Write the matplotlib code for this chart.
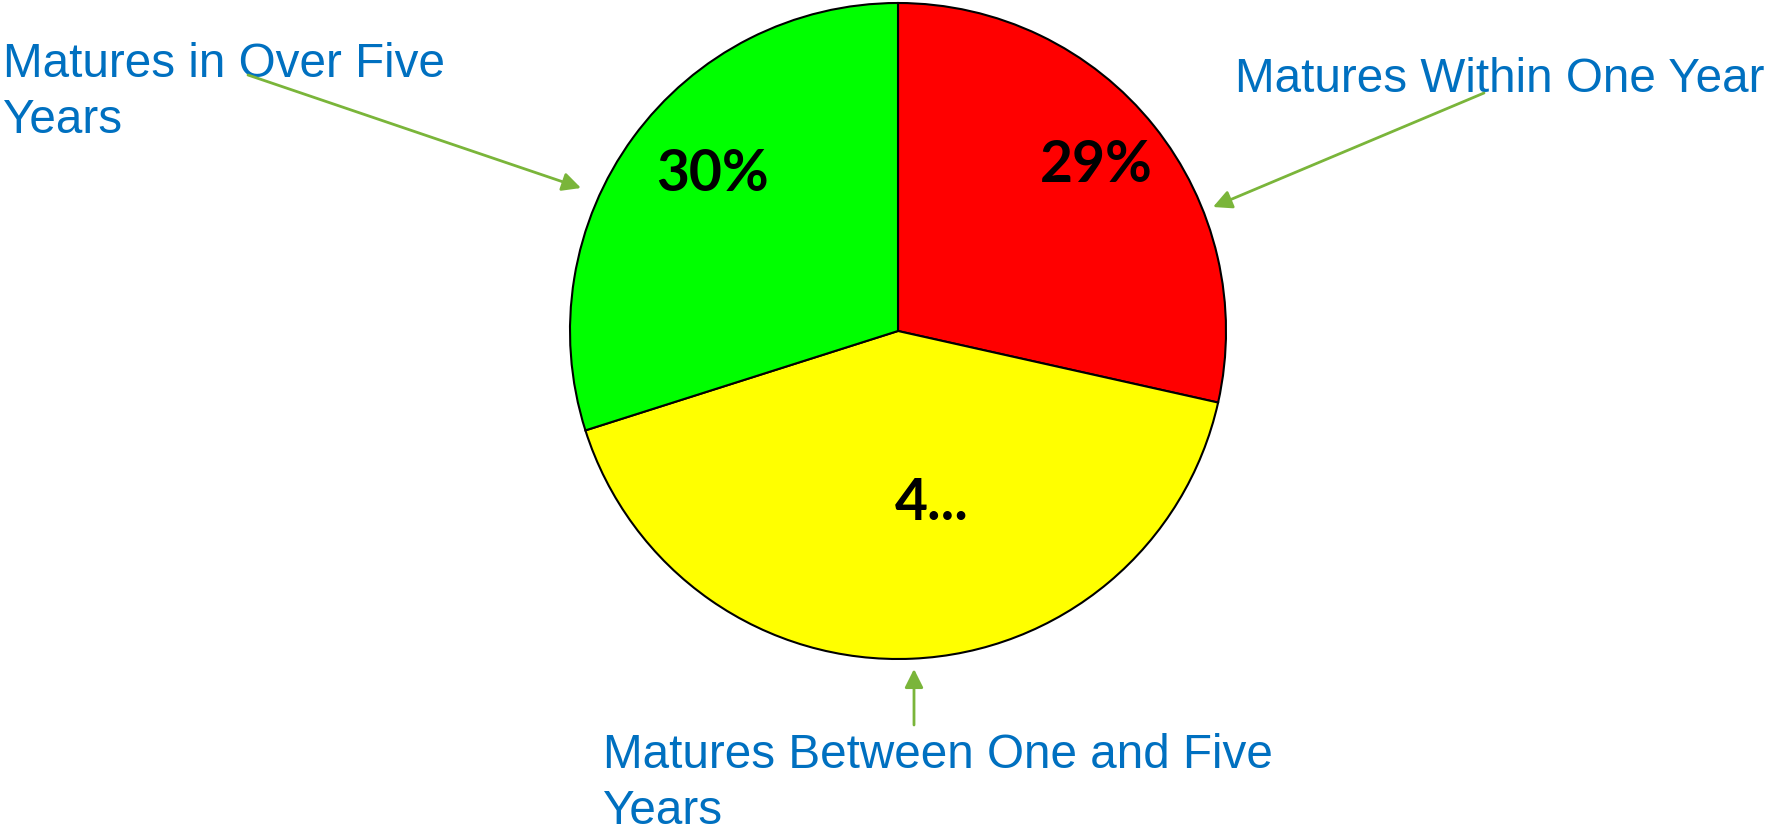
import matplotlib
matplotlib.use('Agg')
import matplotlib.pyplot as plt

categories = ['Matures Within One Year', 'Matures Between One and Five\nYears', 'Matures in Over Five\nYears']
shares = [28.5, 41.6, 29.9]
pct_labels = ['29%', '4...', '30%']
colors = ['#FF0000', '#FFFF00', '#00FF00']

W, H = 1766, 830
fig = plt.figure(figsize=(W / 100, H / 100), dpi=100)
ax = fig.add_axes([0, 0, 1, 1])

# pie in pixel coordinates (y measured from bottom)
cx, cy, r = 898, H - 331, 328
ax.pie(shares, colors=colors, startangle=90, counterclock=False,
       center=(cx, cy), radius=r,
       wedgeprops=dict(edgecolor='black', linewidth=1.5))
ax.set_xlim(0, W)
ax.set_ylim(0, H)
ax.set_aspect('equal')
ax.axis('off')

# percentage labels inside slices (baseline positions)
pct_pos = [(1096, 182), (932, 520), (713, 191)]
for txt, (x, y) in zip(pct_labels, pct_pos):
    ax.text(x, H - y, txt, ha='center', va='baseline', fontsize=41,
            fontweight='bold', family='Lato', color='black')

# category labels with arrows (y = baseline of the last line)
blue = '#0070C0'
green = '#7AB53A'
label_pos = [(1235, 92), (603, 824), (3, 133)]
arrows = [((1484, 93), (1213, 207)), ((914, 725), (914, 669)), ((248, 75), (581, 188))]
for name, (lx, ly), ((x0, y0), (x1, y1)) in zip(categories, label_pos, arrows):
    ax.text(lx, H - ly, name, ha='left', va='baseline', fontsize=34.3,
            family='Liberation Sans', color=blue, linespacing=1.32)
    ax.annotate('', xy=(x1, H - y1), xytext=(x0, H - y0),
                arrowprops=dict(arrowstyle='-|>', color=green, lw=2,
                                mutation_scale=28, shrinkA=0, shrinkB=0))

fig.savefig('out.png', dpi=100)
